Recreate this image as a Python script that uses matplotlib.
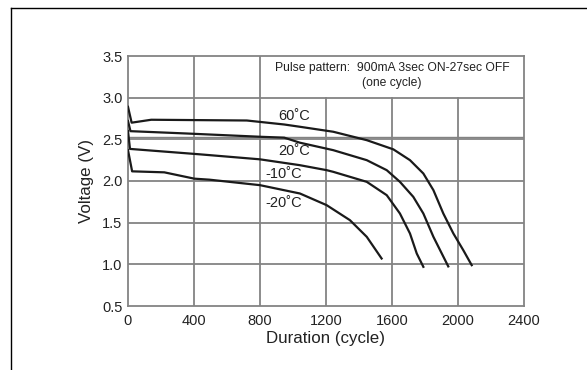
import matplotlib
matplotlib.use("Agg")
from matplotlib import pyplot as plt
from matplotlib.lines import Line2D

plt.rcParams['font.family'] = ['Liberation Sans', 'DejaVu Sans']

# discharge curves (cycles, volts)
x_60 = [0, 22, 141, 720, 947, 1041, 1244, 1447, 1608, 1709, 1790, 1851, 1911, 1972, 2032, 2083]
v_60 = [2.89, 2.70, 2.735, 2.726, 2.678, 2.651, 2.591, 2.49, 2.38, 2.25, 2.09, 1.89, 1.61, 1.37, 1.17, 0.99]

x_20 = [0, 15, 356, 811, 947, 1041, 1244, 1447, 1568, 1648, 1729, 1790, 1851, 1941]
v_20 = [2.72, 2.598, 2.57, 2.53, 2.52, 2.46, 2.37, 2.25, 2.13, 1.99, 1.81, 1.61, 1.33, 0.975]

x_m10 = [0, 12, 436, 800, 1041, 1204, 1244, 1447, 1568, 1648, 1709, 1750, 1790]
v_m10 = [2.60, 2.385, 2.32, 2.26, 2.19, 2.13, 2.11, 1.99, 1.83, 1.61, 1.37, 1.13, 0.97]

x_m20 = [0, 25, 220, 402, 493, 800, 1042, 1204, 1345, 1447, 1537]
v_m20 = [2.37, 2.116, 2.104, 2.028, 2.016, 1.95, 1.85, 1.71, 1.53, 1.33, 1.07]

curves = [(x_60, v_60), (x_20, v_20), (x_m10, v_m10), (x_m20, v_m20)]
labels = ['60˚C', '20˚C', '-10˚C', '-20˚C']
label_pos = [(1005, 2.78), (1008, 2.36), (941, 2.08), (945, 1.74)]

x_ticks = [0, 400, 800, 1200, 1600, 2000, 2400]
y_ticks = [0.5, 1.0, 1.5, 2.0, 2.5, 3.0, 3.5]

grid_col = '#838383'

fig = plt.figure(figsize=(5.87, 3.70), dpi=100)
ax = fig.add_axes([128 / 587, 1 - 306 / 370, 396 / 587, 250 / 370])
ax.set_xlim(0, 2400)
ax.set_ylim(0.5, 3.5)

# grid: vertical lines right of 800 stop under the note box
for xv in x_ticks[1:-1]:
    top = 1.0 if xv <= 800 else (3.0 - 0.5) / 3.0
    ax.axvline(xv, ymin=0, ymax=top, color=grid_col, lw=1.3, zorder=1)
for yv in y_ticks[1:-1]:
    ax.axhline(yv, color=grid_col, lw=1.3, zorder=1)
ax.axhline(2.532, color=grid_col, lw=1.0, zorder=1)

for sp in ax.spines.values():
    sp.set_color(grid_col)
    sp.set_linewidth(1.3)

for (xs, vs) in curves:
    ax.plot(xs, vs, color='#1a1a1a', lw=1.6, zorder=3)

for lab, (lx, ly) in zip(labels, label_pos):
    ax.text(lx, ly, lab, fontsize=10.5, ha='center', va='center', color='#222222')

ax.text(1600, 3.36, 'Pulse pattern:  900mA 3sec ON-27sec OFF', fontsize=8.7,
        ha='center', va='center', color='#222222')
ax.text(1600, 3.18, '(one cycle)', fontsize=8.7, ha='center', va='center', color='#222222')

ax.set_xticks(x_ticks)
ax.set_yticks(y_ticks)
ax.set_xticklabels([str(t) for t in x_ticks])
ax.set_yticklabels(['%.1f' % t for t in y_ticks])
ax.tick_params(axis='x', length=0, labelsize=10.5, labelcolor='#222222', pad=6)
ax.tick_params(axis='y', length=0, labelsize=10.5, labelcolor='#222222', pad=4)
ax.set_xlabel('Duration (cycle)', fontsize=12.2, color='#222222', labelpad=2)
ax.set_ylabel('Voltage (V)', fontsize=12.2, color='#222222', labelpad=6)

# outer frame of the figure panel
fig.add_artist(Line2D([11 / 587, 11 / 587], [0, 1 - 8 / 370], color='black', lw=1.0))
fig.add_artist(Line2D([11 / 587, 1], [1 - 8 / 370, 1 - 8 / 370], color='black', lw=1.0))

fig.savefig('out.png', dpi=100)
